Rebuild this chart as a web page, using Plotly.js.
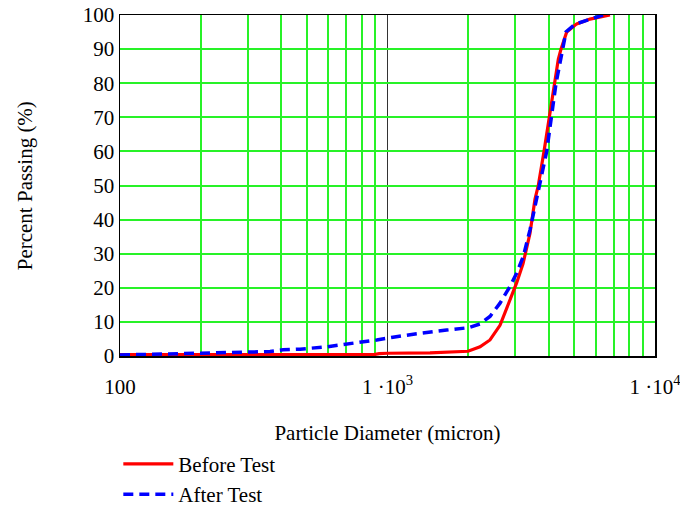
<!DOCTYPE html>
<html>
<head>
<meta charset="utf-8">
<script src="https://cdn.plot.ly/plotly-3.0.1.min.js"></script>
<style>
  html, body { margin: 0; padding: 0; background: #fff; }
  #chart { width: 680px; height: 506px; }
  #chart .gridlayer path, #chart .crisp {
    shape-rendering: crispEdges !important;
  }
</style>
</head>
<body>
<div id="chart"></div>
<script>
// Particle diameter (micron) and percent passing
var beforeDiameter = [100, 200, 300, 500, 890, 930, 1000, 1442, 2000, 2218, 2416, 2634, 2870, 3041, 3210, 3410, 3560, 3662, 3846, 4027, 4193, 4350, 4452, 4677, 5097, 5715, 6788];
var beforePassing  = [0.4, 0.4, 0.4, 0.4, 0.4, 0.7, 0.8, 0.9, 1.4, 2.7, 4.7, 9.0, 16.5, 21.5, 27.0, 36.0, 46.0, 50.0, 60.0, 70.0, 80.0, 87.0, 90.0, 95.0, 97.4, 98.8, 100];

var afterDiameter = [100, 158, 204, 265, 364, 407, 471, 593, 743, 911, 1048, 1249, 1664, 2005, 2218, 2416, 2634, 2870, 3041, 3219, 3410, 3612, 3937, 4266, 4452, 4648, 5023, 5556, 6391];
var afterPassing  = [0.3, 0.7, 0.7, 1.0, 1.3, 1.8, 2.0, 2.7, 3.7, 4.7, 5.5, 6.4, 7.6, 8.3, 9.4, 11.6, 15.5, 20.4, 24.3, 29.2, 37.0, 46.0, 60.0, 80.0, 88.0, 95.0, 97.3, 98.5, 100];

var seriesNames = ["Before Test", "After Test"];
var xTitle = "Particle Diameter (micron)";
var yTitle = "Percent Passing (%)";

// Labelled decade ticks and the green in-between grid positions
var xTickVals = [100, 1000, 10000];
var xTickText = ["100", "1 \u00b710<sup>3</sup>", "1 \u00b710<sup>4</sup>"];
var xMinorVals = [200, 300, 400, 500, 600, 700, 800, 900, 2000, 3000, 4000, 5000, 6000, 7000, 8000, 9000];
var yTickVals = [0, 10, 20, 30, 40, 50, 60, 70, 80, 90, 100];

var FONT = "Liberation Serif, Times New Roman, serif";
var GREEN = "rgb(40,242,40)";

var traces = [
  {
    x: beforeDiameter, y: beforePassing, name: seriesNames[0],
    type: "scatter", mode: "lines",
    line: { color: "rgb(255,0,0)", width: 3.2 }
  },
  {
    x: afterDiameter, y: afterPassing, name: seriesNames[1],
    type: "scatter", mode: "lines",
    line: { color: "rgb(0,0,255)", width: 3.5, dash: "10px,6px" }
  }
];

var layout = {
  width: 680, height: 506,
  margin: { l: 120, r: 25, t: 15, b: 150, autoexpand: false },
  paper_bgcolor: "#fff", plot_bgcolor: "#fff",
  font: { family: FONT, size: 21, color: "#000" },
  showlegend: true,
  legend: {
    xref: "container", yref: "container",
    x: 0.174, y: 0.123, xanchor: "left", yanchor: "top",
    font: { family: FONT, size: 21, color: "#000" },
    bgcolor: "rgba(0,0,0,0)", itemwidth: 50,
    tracegroupgap: 0
  },
  annotations: [
    { text: yTitle, xref: "paper", yref: "paper", x: -0.178, y: 0.5,
      xanchor: "center", yanchor: "middle", textangle: -90, showarrow: false,
      font: { family: FONT, size: 21, color: "#000" } }
  ],
  xaxis: {
    type: "log", range: [2, 4],
    tickmode: "array", tickvals: xTickVals, ticktext: xTickText, tickangle: 0,
    ticks: "", showgrid: true, gridcolor: "#333", gridwidth: 1,
    minor: { tickmode: "array", tickvals: xMinorVals, showgrid: true, gridcolor: GREEN, gridwidth: 2, ticks: "" },
    showline: true, linecolor: "#000", linewidth: 1.5, mirror: true,
    zeroline: false, automargin: false,
    ticklabeloverflow: "allow",
    tickfont: { family: FONT, size: 21, color: "#000" },
    ticklabelstandoff: 11,
    title: { text: xTitle, font: { family: FONT, size: 21, color: "#000" }, standoff: 27 }
  },
  yaxis: {
    range: [0, 100],
    tickmode: "array", tickvals: yTickVals,
    ticks: "", showgrid: true, gridcolor: GREEN, gridwidth: 2,
    showline: true, linecolor: "#000", linewidth: 1.5, mirror: true,
    zeroline: false, automargin: false,
    tickfont: { family: FONT, size: 21, color: "#000" }
  }
};

Plotly.newPlot("chart", traces, layout, { displayModeBar: false, staticPlot: true });
</script>
</body>
</html>
